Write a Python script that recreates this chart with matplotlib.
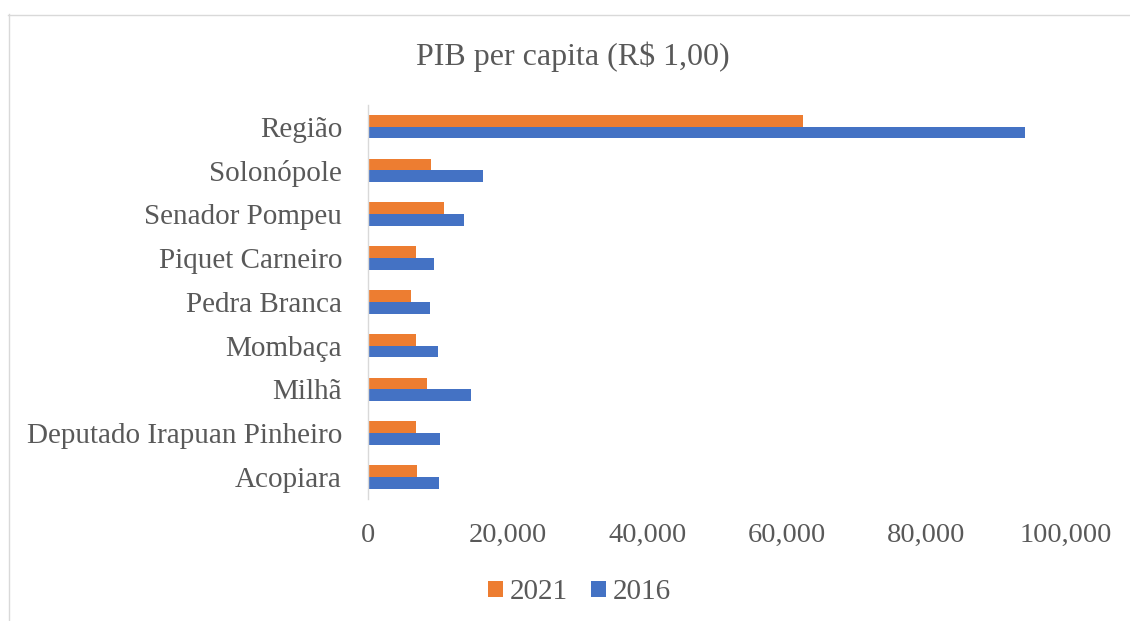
import matplotlib.pyplot as plt
from matplotlib.lines import Line2D
from matplotlib.ticker import FuncFormatter

plt.rcParams['font.family'] = ['Liberation Serif', 'DejaVu Serif']

# dados (de baixo para cima)
municipios = ['Acopiara', 'Deputado Irapuan Pinheiro', 'Milhã', 'Mombaça',
              'Pedra Branca', 'Piquet Carneiro', 'Senador Pompeu',
              'Solonópole', 'Região']
pib_2021 = [7000, 6800, 8400, 6900, 6100, 6900, 10900, 9000, 62300]
pib_2016 = [10200, 10300, 14800, 10000, 8900, 9400, 13800, 16500, 94100]
x_ticks = [0, 20000, 40000, 60000, 80000, 100000]

cor_2021 = '#ED7D31'
cor_2016 = '#4472C4'
cor_texto = '#595959'
cor_linha = '#D9D9D9'

fig = plt.figure(figsize=(11.3, 6.21), dpi=100)
ax = fig.add_axes([0.3257, 0.1965, 0.6177, 0.6348])

pos = range(len(municipios))
h = 0.27
b21 = ax.barh([p + h / 2 for p in pos], pib_2021, height=h, color=cor_2021, label='2021')
b16 = ax.barh([p - h / 2 for p in pos], pib_2016, height=h, color=cor_2016, label='2016')

ax.set_xlim(0, 100000)
ax.set_ylim(-0.5, len(municipios) - 0.5)
ax.set_yticks(list(pos))
ax.set_yticklabels(municipios)
ax.set_xticks(x_ticks)
ax.xaxis.set_major_formatter(FuncFormatter(lambda v, p: f'{int(v):,}'))
ax.tick_params(axis='y', length=0, pad=18.7, labelsize=21, labelcolor=cor_texto)
ax.tick_params(axis='x', length=0, pad=17, labelsize=20.5, labelcolor=cor_texto)

for s in ['top', 'right', 'bottom']:
    ax.spines[s].set_visible(False)
ax.spines['left'].set_color(cor_linha)
ax.spines['left'].set_linewidth(1.0)

fig.text(0.5066, 0.8955, 'PIB per capita (R$ 1,00)', ha='center', va='baseline',
         fontsize=23, color=cor_texto)

fig.legend(handles=[b21, b16], labels=['2021', '2016'], loc='center',
           bbox_to_anchor=(0.5128, 0.046), ncol=2, frameon=False, fontsize=21,
           handlelength=0.51, handleheight=0.51, handletextpad=0.24,
           columnspacing=0.79, labelcolor=cor_texto)

# borda do gráfico
fig.add_artist(Line2D([8.5 / 1130, 8.5 / 1130], [0, 1 - 14 / 621],
                      transform=fig.transFigure, color=cor_linha, lw=1.0))
fig.add_artist(Line2D([8 / 1130, 1], [1 - 14.5 / 621, 1 - 14.5 / 621],
                      transform=fig.transFigure, color=cor_linha, lw=1.0))

fig.savefig('out.png', dpi=100)
